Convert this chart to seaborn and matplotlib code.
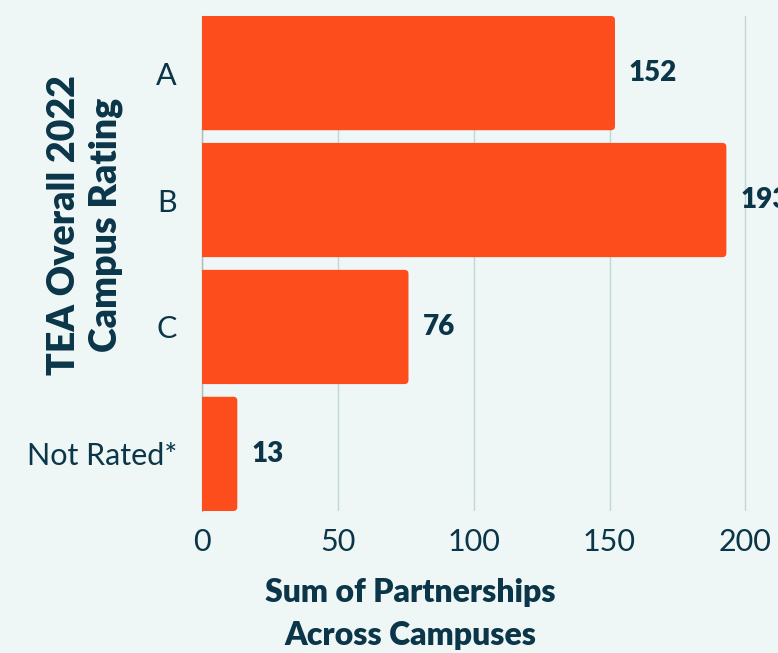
import matplotlib.pyplot as plt
import matplotlib.patches as mpatches
import pandas as pd
import seaborn as sns

ratings = ["A", "B", "C", "Not Rated*"]
partnerships = [152, 193, 76, 13]
xticks = [0, 50, 100, 150, 200]

bg = "#EEF7F5"
bar_color = "#FD4D1C"
text_color = "#0B3548"

sns.set_theme(style="white")
plt.rcParams["font.family"] = ["Lato", "DejaVu Sans"]

df = pd.DataFrame({"rating": ratings, "sum": partnerships})

fig = plt.figure(figsize=(7.78, 6.53), dpi=100, facecolor=bg)
ax = fig.add_axes([202 / 778, 1 - 511 / 653, 1 - 202 / 778, 495 / 653])
ax.set_facecolor(bg)

sns.barplot(data=df, x="sum", y="rating", color=bar_color, width=0.9,
            saturation=1, ax=ax, zorder=3)

# rounded right corners
for p in list(ax.patches):
    x, y, w, h = p.get_x(), p.get_y(), p.get_width(), p.get_height()
    r = mpatches.FancyBboxPatch((x - 3, y), w + 3, h,
                                boxstyle="round,pad=0,rounding_size=1.5",
                                mutation_aspect=0.021, fc=bar_color, ec="none",
                                zorder=3, clip_on=True)
    p.remove()
    ax.add_patch(r)

for i, v in enumerate(partnerships):
    ax.annotate(str(v), (v, i), xytext=(10, 0), textcoords="offset points",
                va="center", ha="left", fontsize=20, fontweight="heavy",
                color=text_color, annotation_clip=False)

ax.set_xlim(0, 212)
ax.set_ylim(3.45, -0.45)
ax.set_xticks(xticks)
ax.set_xticklabels([str(t) for t in xticks])
ax.xaxis.grid(True, color="#C3D4D7", linewidth=1, zorder=0)
ax.set_axisbelow(True)
ax.tick_params(axis="both", length=0, labelsize=22, labelcolor=text_color)
ax.tick_params(axis="x", pad=12)
ax.tick_params(axis="y", pad=18)

for s in ["top", "right", "bottom"]:
    ax.spines[s].set_visible(False)
ax.spines["left"].set_color("#A9BEC4")
ax.spines["left"].set_linewidth(1)

ax.set_xlabel("Sum of Partnerships\nAcross Campuses", fontsize=23,
              fontweight="heavy", color=text_color, linespacing=1.6)
ax.xaxis.set_label_coords((410 - 202) / 576, -(578 - 511) / 495)
ax.xaxis.label.set_va("top")
ax.set_ylabel("TEA Overall 2022\nCampus Rating", fontsize=27,
              fontweight="heavy", color=text_color, linespacing=1.3)
ax.yaxis.set_label_coords(-(202 - 85) / 576, (511 - 225) / 495)
ax.yaxis.label.set_va("center")

fig.savefig("out.png", dpi=100, facecolor=bg)
